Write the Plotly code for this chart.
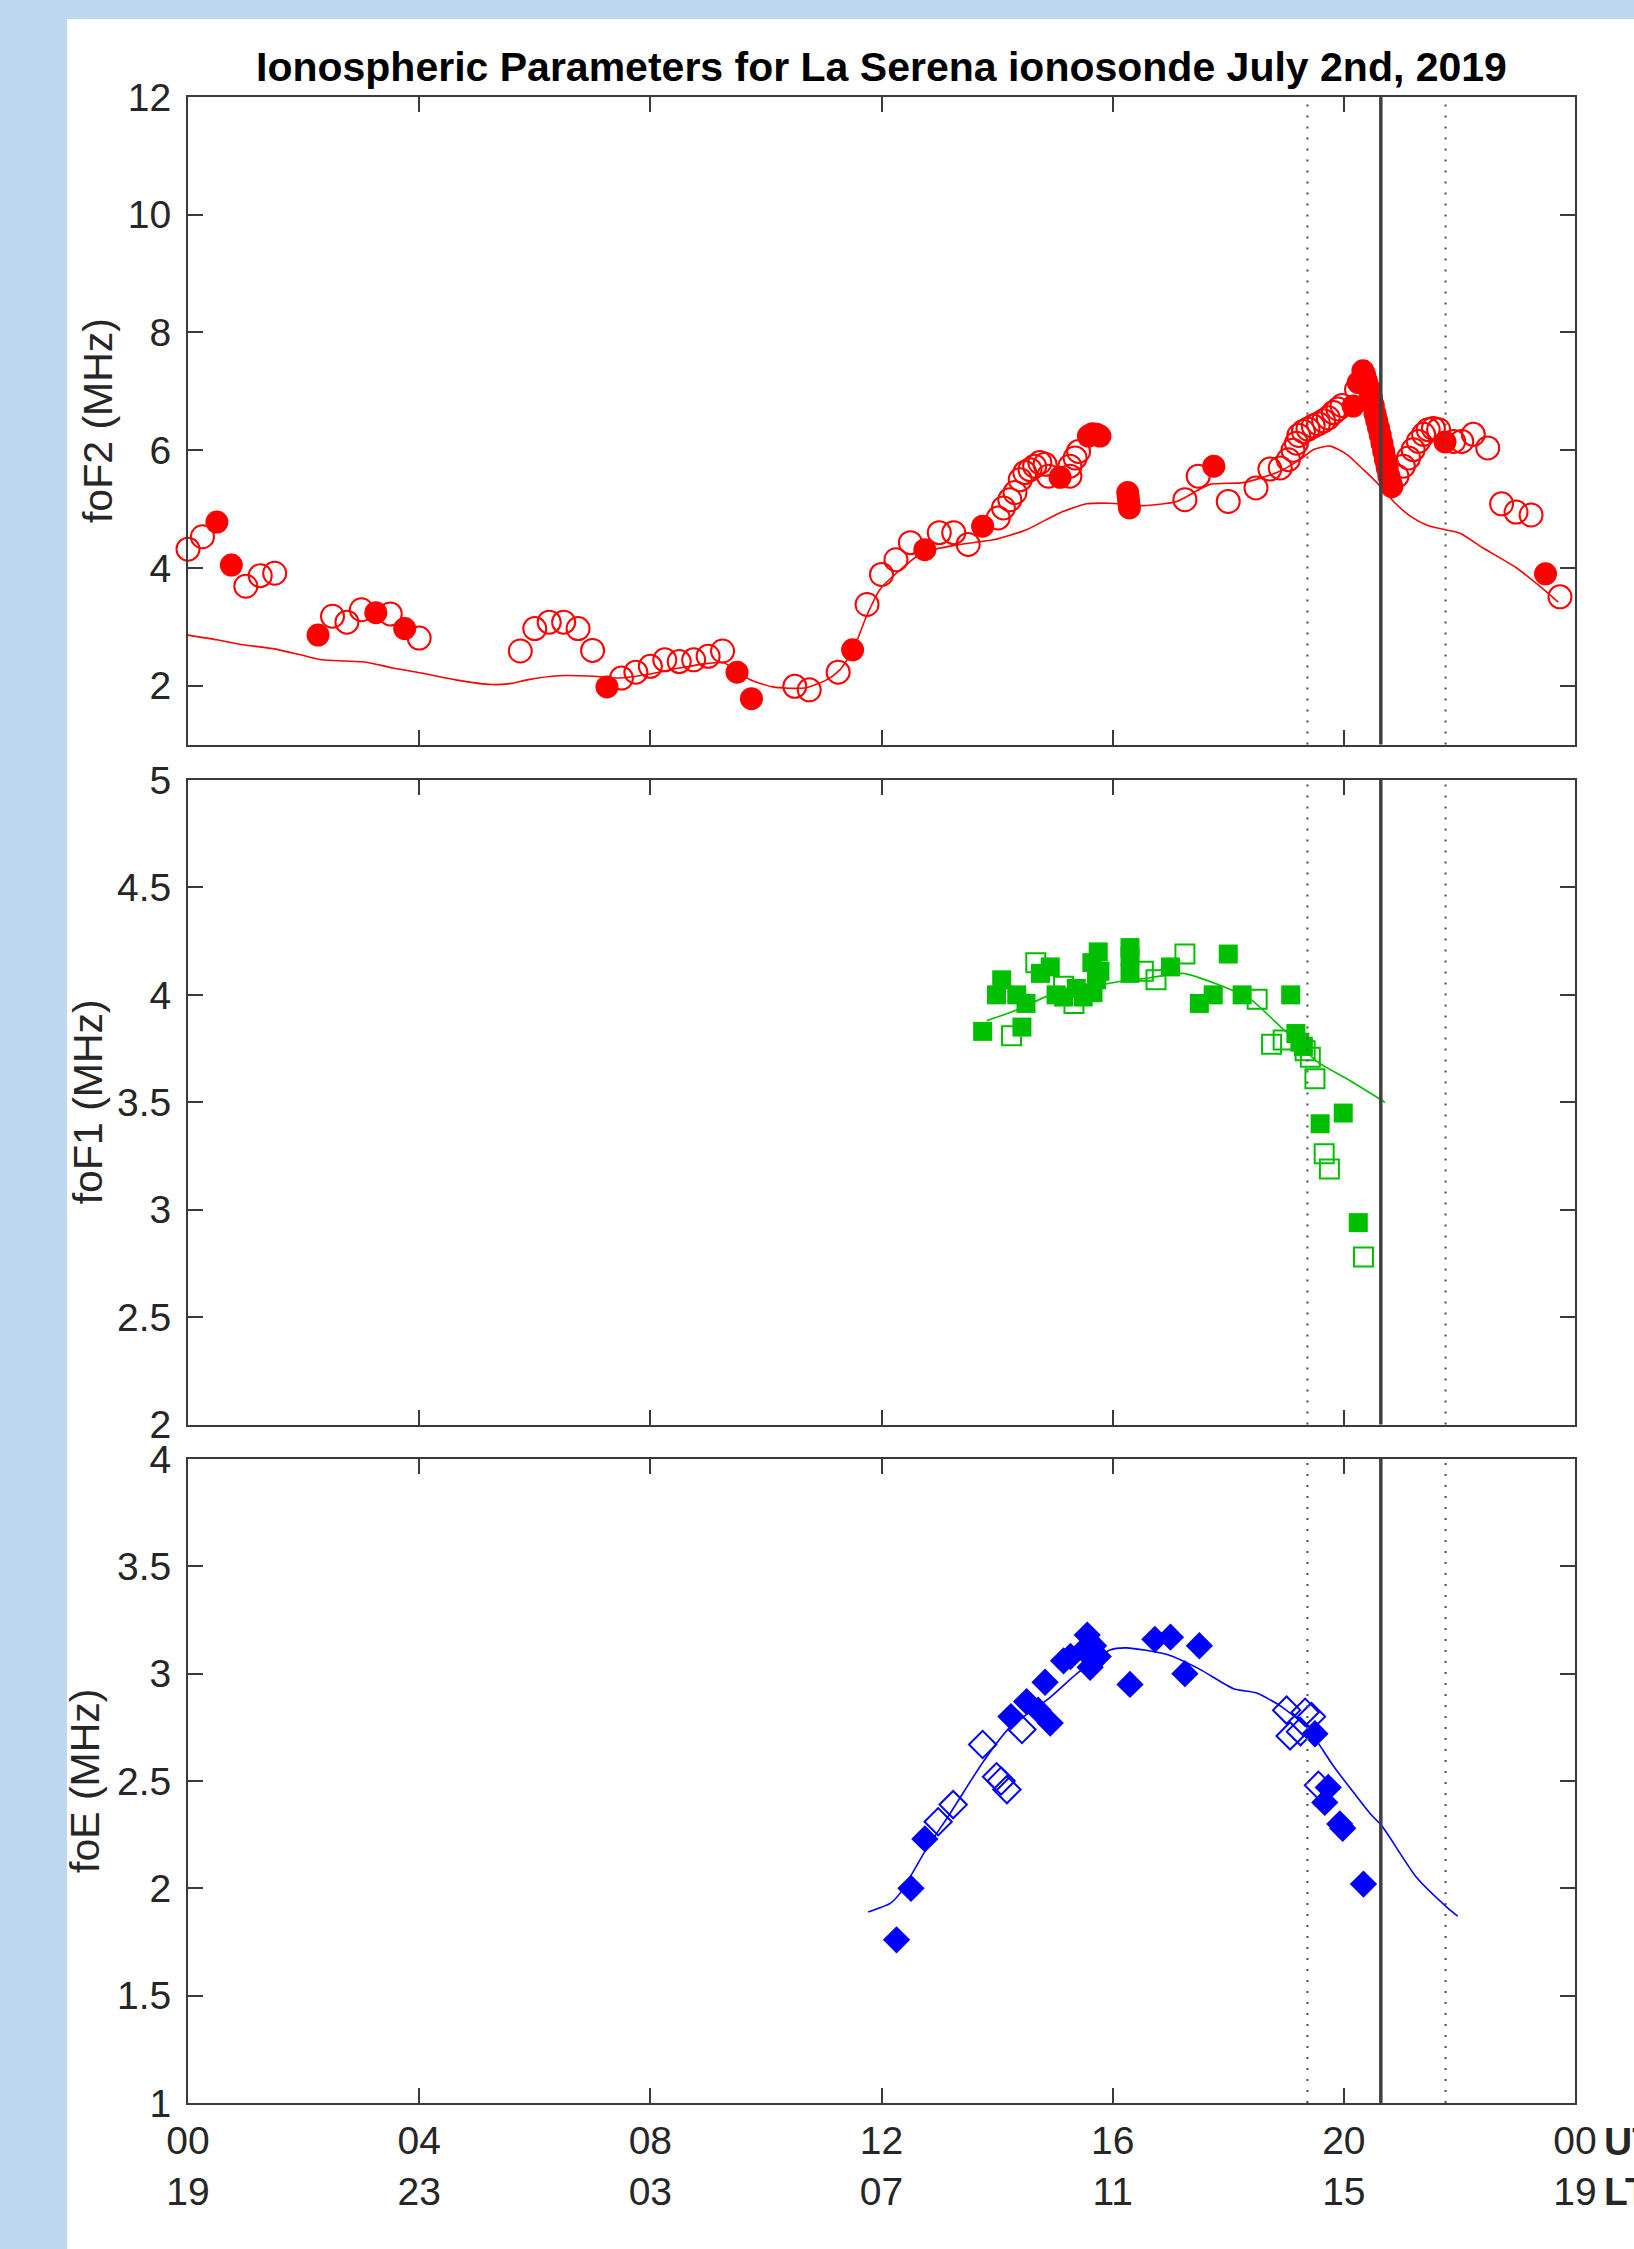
import plotly.graph_objects as go

# ---------------- data (hours UT, MHz) ----------------
fof2_open_t = [0.00, 0.25, 1.00, 1.25, 1.50, 2.50, 2.75, 3.00, 3.50, 4.00,
               5.75, 6.00, 6.25, 6.50, 6.75, 7.00, 7.50, 7.75, 8.00, 8.25,
               8.50, 8.75, 9.00, 9.25, 10.50, 10.75, 11.25, 11.75, 12.00, 12.25,
               12.50, 13.00, 13.25, 13.50, 14.02, 14.11, 14.22, 14.31, 14.40, 14.48,
               14.57, 14.65, 14.74, 14.83, 14.89, 15.26, 15.26, 15.35, 15.41, 17.25,
               17.48, 18.00, 18.48, 18.72, 18.90, 19.04, 19.12, 19.18, 19.22, 19.30,
               19.38, 19.47, 19.56, 19.65, 19.73, 19.82, 19.90, 19.97, 20.22, 20.92,
               21.03, 21.12, 21.20, 21.29, 21.38, 21.46, 21.55, 21.64, 21.90, 22.04,
               22.24, 22.49, 22.73, 22.98, 23.24, 23.74]
fof2_open_v = [4.32, 4.53, 3.69, 3.87, 3.91, 3.18, 3.08, 3.29, 3.22, 2.81,
               2.59, 2.97, 3.08, 3.08, 2.97, 2.60, 2.13, 2.23, 2.33, 2.44,
               2.41, 2.44, 2.50, 2.59, 1.99, 1.93, 2.23, 3.38, 3.89, 4.14,
               4.43, 4.60, 4.60, 4.40, 4.85, 5.02, 5.16, 5.28, 5.50, 5.62,
               5.67, 5.73, 5.79, 5.76, 5.56, 5.56, 5.73, 5.87, 5.98, 5.16,
               5.56, 5.13, 5.36, 5.68, 5.70, 5.84, 6.00, 6.12, 6.25, 6.32,
               6.36, 6.41, 6.45, 6.50, 6.55, 6.64, 6.70, 6.76, 7.03, 5.56,
               5.73, 5.87, 6.01, 6.15, 6.27, 6.35, 6.37, 6.35, 6.15, 6.15,
               6.27, 6.04, 5.09, 4.95, 4.90, 3.51]

fof2_fill_t = [0.50, 0.75, 2.25, 3.25, 3.75, 7.25, 9.50, 9.75, 11.50, 12.75,
               13.75, 15.09, 15.58, 15.65, 15.72, 15.78, 16.26, 16.27, 16.28, 16.29,
               17.75, 20.16, 20.25, 20.33, 20.36, 20.39, 20.42, 20.45, 20.48, 20.51,
               20.54, 20.57, 20.60, 20.63, 20.66, 20.69, 20.72, 20.75, 20.78, 20.81,
               20.83, 21.75, 23.49]
fof2_fill_v = [4.78, 4.05, 2.86, 3.24, 2.97, 1.98, 2.23, 1.78, 2.61, 4.31,
               4.71, 5.54, 6.24, 6.28, 6.27, 6.24, 5.28, 5.20, 5.10, 5.02,
               5.73, 6.75, 7.15, 7.35, 7.28, 7.18, 7.08, 6.98, 6.88, 6.76,
               6.62, 6.50, 6.38, 6.26, 6.12, 5.98, 5.84, 5.70, 5.56, 5.45,
               5.38, 6.14, 3.90]

fof2_model_t = [0.00, 0.50, 0.92, 1.47, 1.93, 2.32, 2.70, 3.09, 3.55, 4.01,
                4.63, 5.25, 5.60, 5.87, 6.41, 7.03, 7.42, 8.00, 8.50, 9.00,
                9.27, 9.50, 9.73, 10.12, 10.66, 11.05, 11.28, 11.51, 11.74, 11.97,
                12.29, 12.71, 13.35, 13.94, 14.51, 15.09, 15.55, 15.95, 16.53, 17.11,
                17.68, 18.26, 18.84, 19.24, 19.47, 19.76, 20.05, 20.34, 20.60, 20.86,
                21.15, 21.45, 21.75, 22.01, 22.41, 22.99, 23.39, 23.71]
fof2_model_v = [2.86, 2.78, 2.70, 2.63, 2.53, 2.44, 2.42, 2.40, 2.30, 2.22,
                2.10, 2.02, 2.04, 2.10, 2.17, 2.16, 2.13, 2.20, 2.30, 2.38,
                2.39, 2.25, 2.10, 1.98, 1.96, 2.10, 2.27, 2.61, 3.18, 3.63,
                3.94, 4.26, 4.40, 4.48, 4.65, 4.94, 5.09, 5.10, 5.06, 5.13,
                5.42, 5.45, 5.62, 5.84, 6.01, 6.07, 5.93, 5.67, 5.42, 5.13,
                4.88, 4.72, 4.65, 4.59, 4.34, 4.00, 3.69, 3.42]

fof1_open_t = [14.25, 14.67, 15.15, 15.33, 16.53, 16.75, 17.25, 18.50, 18.75, 18.95,
               19.33, 19.42, 19.50, 19.66, 19.75, 20.34]
fof1_open_v = [3.81, 4.15, 4.04, 3.96, 4.11, 4.07, 4.19, 3.98, 3.77, 3.79,
               3.74, 3.71, 3.61, 3.26, 3.19, 2.78]

fof1_fill_t = [13.75, 13.99, 14.08, 14.34, 14.43, 14.50, 14.75, 14.92, 15.02, 15.15,
               15.37, 15.49, 15.64, 15.66, 15.72, 15.75, 15.78, 16.30, 16.30, 16.30,
               17.00, 17.50, 17.74, 18.00, 18.24, 19.08, 19.17, 19.24, 19.30, 19.59,
               19.99, 20.25]
fof1_fill_v = [3.83, 4.00, 4.07, 4.00, 3.85, 3.96, 4.10, 4.13, 4.00, 3.99,
               4.03, 3.99, 4.15, 4.01, 4.07, 4.20, 4.11, 4.22, 4.18, 4.10,
               4.13, 3.96, 4.00, 4.19, 4.00, 4.00, 3.82, 3.78, 3.76, 3.40,
               3.45, 2.94]

fof1_model_t = [13.82, 14.34, 14.92, 15.49, 16.07, 16.65, 17.22, 17.80, 18.38, 18.95,
                19.24, 19.53, 20.11, 20.71]
fof1_model_v = [3.88, 3.93, 4.00, 4.03, 4.06, 4.08, 4.10, 4.05, 3.98, 3.84,
                3.77, 3.69, 3.60, 3.50]

foe_open_t = [12.98, 13.24, 13.75, 13.99, 14.07, 14.17, 14.43, 19.01, 19.07, 19.25,
              19.33, 19.44, 19.56]
foe_open_v = [2.31, 2.39, 2.67, 2.52, 2.50, 2.46, 2.74, 2.83, 2.71, 2.73,
              2.82, 2.80, 2.48]

foe_fill_t = [12.26, 12.51, 12.75, 14.24, 14.51, 14.71, 14.83, 14.92, 15.15, 15.27,
              15.50, 15.56, 15.61, 15.67, 15.75, 16.30, 16.73, 17.00, 17.25, 17.50,
              19.50, 19.67, 19.73, 19.93, 19.98, 20.34]
foe_fill_v = [1.76, 2.00, 2.23, 2.80, 2.87, 2.83, 2.96, 2.77, 3.06, 3.08,
              3.11, 3.18, 3.03, 3.13, 3.08, 2.95, 3.16, 3.17, 3.00, 3.13,
              2.72, 2.40, 2.47, 2.30, 2.28, 2.02]

foe_model_t = [11.77, 12.15, 12.33, 12.77, 13.19, 13.76, 14.22, 14.92, 15.38, 15.95,
               16.24, 16.93, 17.51, 18.09, 18.49, 18.90, 19.36, 19.82, 20.45, 20.66,
               21.26, 21.79, 21.97]
foe_model_v = [1.89, 1.93, 1.98, 2.18, 2.35, 2.59, 2.75, 2.89, 3.00, 3.11,
               3.12, 3.09, 3.02, 2.93, 2.91, 2.85, 2.75, 2.57, 2.35, 2.29,
               2.05, 1.91, 1.87]

x_tick_vals = [0, 4, 8, 12, 16, 20, 24]
ut_labels = ["00", "04", "08", "12", "16", "20", "00"]
lt_labels = ["19", "23", "03", "07", "11", "15", "19"]

fof2_ticks = [2, 4, 6, 8, 10, 12]
fof1_ticks = [2, 2.5, 3, 3.5, 4, 4.5, 5]
foe_ticks = [1, 1.5, 2, 2.5, 3, 3.5, 4]

eclipse_start, eclipse_max, eclipse_end = 19.37, 20.64, 21.76

title_text = "Ionospheric Parameters for La Serena ionosonde July 2nd, 2019"
panel_labels = ["foF2 (MHz)", "foF1 (MHz)", "foE (MHz)"]

# ---------------- styling ----------------
W, H = 1634, 2249
ML, MR, MT, MB = 188, 59, 97, 146
PW, PH = W - ML - MR, H - MT - MB
FONT = "Liberation Sans, Arial, sans-serif"
AX = "#3a3a3a"
BG = "#bdd7ee"
RED, GREEN, BLUE = "#ff0000", "#00bf00", "#0000ff"


def py(px):  # pixel row -> paper y
    return (H - MB - px) / PH


def pxx(px):  # pixel col -> paper x
    return (px - ML) / PW


fig = go.Figure()

panels = [
    ("x", "y", fof2_model_t, fof2_model_v, fof2_open_t, fof2_open_v, fof2_fill_t, fof2_fill_v,
     RED, "circle", 23),
    ("x2", "y2", fof1_model_t, fof1_model_v, fof1_open_t, fof1_open_v, fof1_fill_t, fof1_fill_v,
     GREEN, "square", 19),
    ("x3", "y3", foe_model_t, foe_model_v, foe_open_t, foe_open_v, foe_fill_t, foe_fill_v,
     BLUE, "diamond", 21),
]

for xa, ya, mt, mv, ot, ov, ft, fv, col, sym, sz in panels:
    fig.add_trace(go.Scatter(x=mt, y=mv, xaxis=xa, yaxis=ya, mode="lines",
                             line=dict(color=col, width=1.6, shape="spline", smoothing=0.6),
                             hoverinfo="skip", cliponaxis=False))
    fig.add_trace(go.Scatter(x=ot, y=ov, xaxis=xa, yaxis=ya, mode="markers",
                             marker=dict(symbol=sym + "-open", size=sz, color=col,
                                         line=dict(color=col, width=2)),
                             cliponaxis=False))
    fig.add_trace(go.Scatter(x=ft, y=fv, xaxis=xa, yaxis=ya, mode="markers",
                             marker=dict(symbol=sym, size=sz, color=col,
                                         line=dict(width=0)),
                             cliponaxis=False))

TICK_FONT = dict(family=FONT, size=39, color="#262626")
axis_common = dict(showline=True, linecolor=AX, linewidth=2, mirror="ticks",
                   ticks="inside", ticklen=15, tickwidth=1.5, tickcolor=AX,
                   showgrid=False, zeroline=False, tickfont=TICK_FONT)

domains = [[py(744.6), 1.0], [py(1424.6), py(780)], [0.0, py(1459)]]
yranges = [[1, 12], [2, 5], [1, 4]]
yticks = [fof2_ticks, fof1_ticks, foe_ticks]

layout = dict(width=W, height=H, margin=dict(l=ML, r=MR, t=MT, b=MB),
              paper_bgcolor=BG, plot_bgcolor="white", showlegend=False,
              font=dict(family=FONT, color="#262626"))

for i in range(3):
    sfx = "" if i == 0 else str(i + 1)
    xk, yk = "xaxis" + sfx, "yaxis" + sfx
    xa = dict(axis_common, domain=[0, 1], range=[0, 24], anchor="y" + sfx,
              tickvals=x_tick_vals)
    if i == 2:
        xa.update(ticktext=[u + "<br>" + l for u, l in zip(ut_labels, lt_labels)],
                  showticklabels=True, ticklabelstandoff=2)
    else:
        xa.update(showticklabels=False)
    ya = dict(axis_common, domain=domains[i], range=yranges[i], anchor="x" + sfx,
              tickvals=yticks[i], ticktext=[("%g" % v) for v in yticks[i]],
              ticklabelstandoff=7)
    layout[xk] = xa
    layout[yk] = ya

fig.update_layout(**layout)

# white panel over the blue background
shapes = [dict(type="rect", xref="paper", yref="paper", x0=pxx(67), x1=1.2,
               y0=-0.2, y1=py(19), fillcolor="white", line=dict(width=0), layer="below")]

for i in range(3):
    sfx = "" if i == 0 else str(i + 1)
    for t, sty in [(eclipse_start, "dot"), (eclipse_max, "solid"), (eclipse_end, "dot")]:
        if sty == "dot":
            ln = dict(color="#5a5a5a", width=2.2, dash="2px,9px")
        else:
            ln = dict(color="#404040", width=3.5)
        shapes.append(dict(type="line", xref="x" + sfx, yref="y" + sfx + " domain",
                           x0=t, x1=t, y0=0, y1=1, line=ln, layer="above"))
fig.update_layout(shapes=shapes)

annotations = [
    dict(text="<b>" + title_text + "</b>", xref="paper", yref="paper", x=0.5, y=py(67),
         xanchor="center", yanchor="middle", showarrow=False,
         font=dict(family=FONT, size=41, color="black")),
]
label_x = [98, 88, 85]
label_y = [(97.5 + 744.6) / 2, (780 + 1424.6) / 2, (1459 + 2103) / 2]
for txt, lx, ly in zip(panel_labels, label_x, label_y):
    annotations.append(dict(text=txt, xref="paper", yref="paper", x=pxx(lx), y=py(ly),
                            xanchor="center", yanchor="middle", textangle=-90,
                            showarrow=False, font=dict(family=FONT, size=41, color="#262626")))
for txt, ly in [("UT", 2141), ("LT", 2191)]:
    annotations.append(dict(text="<b>" + txt + "</b>", xref="paper", yref="paper",
                            x=pxx(1602), y=py(ly), xanchor="left", yanchor="middle",
                            showarrow=False, font=dict(family=FONT, size=39, color="#262626")))
fig.update_layout(annotations=annotations)

page_fix = ("document.body.style.margin='0px';"
            "document.body.style.background='" + BG + "';"
            "document.body.style.overflow='hidden';")
fig.write_html("out.html", post_script=page_fix, config={"displayModeBar": False})
